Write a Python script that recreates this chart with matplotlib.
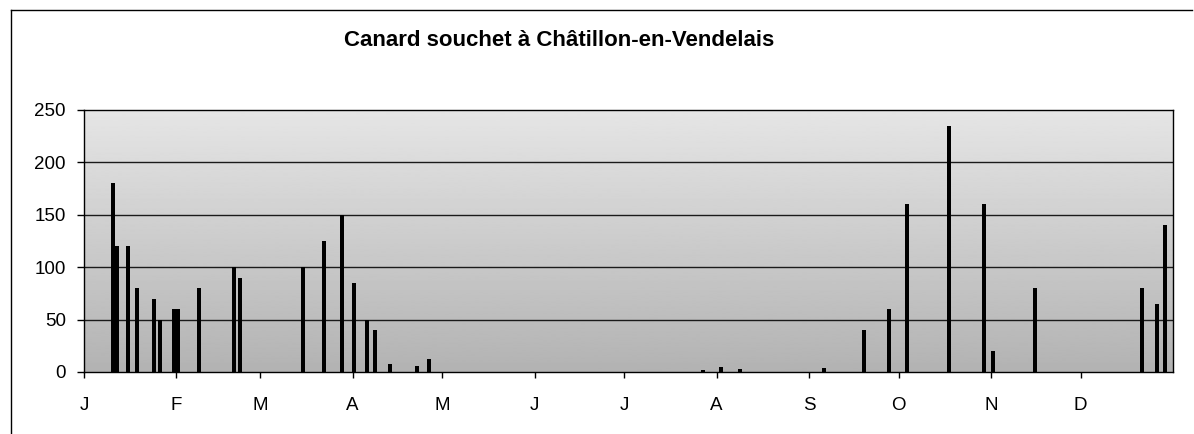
import numpy as np
import matplotlib
matplotlib.use("Agg")
import matplotlib.pyplot as plt
from matplotlib.lines import Line2D

plt.rcParams['font.family'] = ['Liberation Sans', 'DejaVu Sans']

# ---- data (day of year, count) ----
days = [9.6, 10.9, 14.6, 17.7, 23.6, 25.5, 30.2, 31.5, 38.5, 50.3, 52.3,
        73.5, 80.4, 86.5, 90.6, 94.7, 97.6, 102.6, 111.5, 115.7,
        207.4, 213.4, 219.9, 248.0,
        261.5, 269.8, 275.7, 289.9, 301.7, 304.7, 318.7, 354.5, 359.5, 362.3]
counts = [180, 120, 120, 80, 70, 50, 60, 60, 80, 100, 90,
          100, 125, 150, 85, 50, 40, 8, 6, 12,
          2, 5, 3, 4,
          40, 60, 160, 235, 160, 20, 80, 80, 65, 140]
month_starts = [0, 31, 59, 90, 120, 151, 181, 212, 243, 273, 304, 334]
month_labels = ['J', 'F', 'M', 'A', 'M', 'J', 'J', 'A', 'S', 'O', 'N', 'D']
y_ticks = [0, 50, 100, 150, 200, 250]
title = "Canard souchet à Châtillon-en-Vendelais"

W, H = 1194, 434
fig = plt.figure(figsize=(W / 100, H / 100), dpi=100)
fig.patch.set_facecolor('white')

x0, x1, y0, y1 = 84, 1173, 110, 372
ax = fig.add_axes([x0 / W, 1 - y1 / H, (x1 - x0) / W, (y1 - y0) / H])
ax.set_xlim(0, 365)
ax.set_ylim(0, 250)

# textured-looking gray background (vertical gradient)
grad = np.linspace(0.70, 0.90, 256).reshape(-1, 1)
ax.imshow(grad, extent=[0, 365, 0, 250], aspect='auto', cmap='gray',
          vmin=0, vmax=1, origin='lower', zorder=0, interpolation='bilinear')

for yv in y_ticks[1:-1]:
    ax.axhline(yv, color='#1a1a1a', lw=1.0, zorder=1)

ax.bar(days, counts, width=1.35, color='black', align='center', zorder=2)

ax.set_xticks(month_starts)
ax.set_xticklabels(month_labels, fontsize=13.5)
ax.set_yticks(y_ticks)
ax.set_yticklabels([str(v) for v in y_ticks], fontsize=13.5)
ax.tick_params(axis='x', length=4, width=1, pad=14, direction='out')
ax.tick_params(axis='y', length=5, width=1, pad=8, direction='out')
for s in ax.spines.values():
    s.set_color('black')
    s.set_linewidth(1.0)
    s.set_zorder(3)

fig.text(559 / W, 1 - 40 / H, title, ha='center', va='center',
         fontsize=16, fontweight='bold')

# outer frame of the scanned chart
fig.add_artist(Line2D([11 / W, 1192 / W], [1 - 10 / H, 1 - 10 / H],
                      transform=fig.transFigure, color='black', lw=1))
fig.add_artist(Line2D([11 / W, 11 / W], [1 - 10 / H, 0],
                      transform=fig.transFigure, color='black', lw=1))

fig.savefig('out.png', dpi=100)
